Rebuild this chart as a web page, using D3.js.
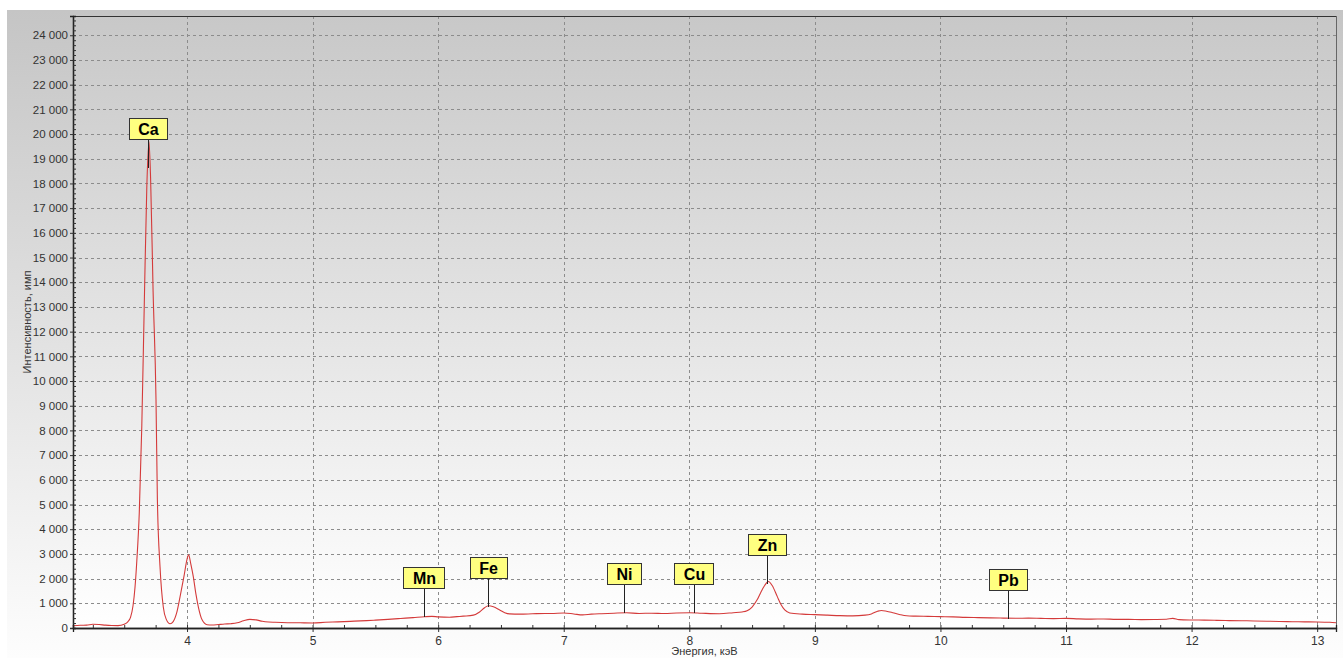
<!DOCTYPE html>
<html>
<head>
<meta charset="utf-8">
<script src="https://cdn.jsdelivr.net/npm/d3@7"></script>
<style>
  body { margin: 0; background: #fff; }
  text { font-family: Arial, "Liberation Sans", sans-serif; }
</style>
</head>
<body>
<svg width="1343" height="658"></svg>
<script>
// spectrum: energy (keV) and counts
var energy = [3.09,3.15,3.2,3.25,3.3,3.35,3.4,3.45,3.5,3.53,3.55,3.57,3.586,3.6,3.62,3.64,3.66,3.68,3.697,3.71,3.73,3.753,3.764,3.785,3.811,3.835,3.865,3.89,3.918,3.944,3.976,4.0,4.013,4.03,4.05,4.07,4.09,4.12,4.16,4.2,4.25,4.3,4.35,4.4,4.45,4.5,4.55,4.6,4.65,4.7,4.8,4.9,5.0,5.1,5.2,5.3,5.43,5.5,5.6,5.7,5.8,5.89,5.95,6.0,6.09,6.15,6.2,6.28,6.33,6.37,6.4,6.44,6.49,6.53,6.57,6.65,6.75,6.85,6.9,7.0,7.08,7.15,7.22,7.3,7.4,7.5,7.6,7.7,7.8,7.9,8.0,8.1,8.24,8.35,8.42,8.46,8.5,8.54,8.57,8.6,8.63,8.66,8.7,8.73,8.76,8.8,8.9,9.0,9.1,9.2,9.3,9.4,9.45,9.5,9.53,9.57,9.62,9.68,9.73,9.8,9.9,10.0,10.1,10.2,10.3,10.4,10.5,10.6,10.7,10.8,10.9,11.0,11.1,11.2,11.3,11.4,11.5,11.6,11.7,11.8,11.85,11.9,12.0,12.1,12.2,12.3,12.4,12.5,12.6,12.7,12.8,12.9,13.0,13.1,13.15];
var counts = [90,110,115,150,140,115,100,95,150,260,430,900,1660,2700,4700,8200,13200,17900,19700,18200,13600,9250,5200,2480,850,350,170,260,620,1250,2100,2780,2960,2600,2080,1400,860,330,130,120,140,160,175,210,290,350,330,270,240,230,215,210,205,230,250,270,300,320,350,385,420,455,470,450,435,460,480,520,650,820,900,860,730,620,570,560,575,590,585,610,570,530,560,580,600,615,590,600,585,610,620,600,580,620,650,700,850,1140,1450,1720,1880,1720,1280,950,730,610,560,540,520,500,490,520,570,680,710,680,620,540,495,480,470,460,450,430,420,410,400,395,400,390,380,390,370,360,365,350,350,340,345,355,390,340,325,320,310,300,295,285,275,265,255,250,245,230,215];

// element markers
var elements = ["Ca","Mn","Fe","Ni","Cu","Zn","Pb"];
var elementEnergy = [3.69,5.89,6.40,7.48,8.04,8.62,10.54];
var elementLevel = [18620,445,850,607,607,1780,376];

var xTicks = [4,5,6,7,8,9,10,11,12,13];
var yTicks = d3.range(0, 24001, 1000);

var svg = d3.select("svg");
var pLeft = 73, pRight = 1336, pTop = 16, pBottom = 628;

var x = d3.scaleLinear().domain([3.092, 13.15]).range([pLeft, pRight]);
var y = d3.scaleLinear().domain([0, 24780]).range([pBottom, pTop]);

var fmt = d3.formatLocale({decimal: ",", thousands: " ", grouping: [3], currency: ["", ""]}).format(",d");

var defs = svg.append("defs");
var g1 = defs.append("linearGradient").attr("id", "outerBg").attr("x1", 0).attr("y1", 0).attr("x2", 0).attr("y2", 1);
g1.append("stop").attr("offset", "0%").attr("stop-color", "#c5c5c5");
g1.append("stop").attr("offset", "100%").attr("stop-color", "#fdfdfd");
var g2 = defs.append("linearGradient").attr("id", "plotBg").attr("x1", 0).attr("y1", 0).attr("x2", 0).attr("y2", 1);
g2.append("stop").attr("offset", "0%").attr("stop-color", "#c8c8c8");
g2.append("stop").attr("offset", "100%").attr("stop-color", "#ffffff");

svg.append("rect").attr("x", 7).attr("y", 10).attr("width", 1336).attr("height", 648).attr("fill", "url(#outerBg)");
svg.append("rect").attr("x", pLeft).attr("y", pTop).attr("width", pRight - pLeft).attr("height", pBottom - pTop)
  .attr("fill", "url(#plotBg)");

// grid
var grid = svg.append("g").attr("stroke", "#8c8c8c").attr("stroke-dasharray", "3,3").attr("stroke-width", 1);
grid.selectAll(".gy").data(yTicks.filter(function(d) { return d > 0; })).enter().append("line")
  .attr("x1", pLeft).attr("x2", pRight)
  .attr("y1", function(d) { return Math.round(y(d)) + 0.5; })
  .attr("y2", function(d) { return Math.round(y(d)) + 0.5; });
grid.selectAll(".gx").data(xTicks).enter().append("line")
  .attr("y1", pTop).attr("y2", pBottom)
  .attr("x1", function(d) { return Math.round(x(d)) + 0.5; })
  .attr("x2", function(d) { return Math.round(x(d)) + 0.5; });

// spectrum
var line = d3.line()
  .x(function(d, i) { return x(energy[i]); })
  .y(function(d) { return y(d); })
  .curve(d3.curveMonotoneX);
svg.append("path").datum(counts).attr("d", line)
  .attr("fill", "none").attr("stroke", "#d43a3a").attr("stroke-width", 1.1);

// frame
svg.append("rect").attr("x", pLeft + 0.5).attr("y", pTop + 0.5).attr("width", pRight - pLeft).attr("height", pBottom - pTop)
  .attr("fill", "none").attr("stroke", "#666");
svg.append("line").attr("x1", pLeft).attr("x2", pRight).attr("y1", pTop + 0.5).attr("y2", pTop + 0.5)
  .attr("stroke", "#333");

// axes
var yAxis = svg.append("g").attr("transform", "translate(" + pLeft + ",0)")
  .call(d3.axisLeft(y).tickValues(yTicks).tickFormat(fmt).tickSize(3).tickPadding(2));
var yMinor = svg.append("g").attr("transform", "translate(" + pLeft + ",0)")
  .call(d3.axisRight(y).tickValues(d3.range(0, 24780, 200)).tickFormat("").tickSize(3));
var xAxis = svg.append("g").attr("transform", "translate(0," + pBottom + ")")
  .call(d3.axisBottom(x).tickValues(xTicks).tickFormat(d3.format("d")).tickSize(4).tickPadding(4));
var xMinor = svg.append("g").attr("transform", "translate(0," + pBottom + ")")
  .call(d3.axisTop(x).tickValues(d3.range(3.25, 13.15, 0.25)).tickFormat("").tickSize(3));

[yAxis, yMinor, xAxis, xMinor].forEach(function(a) {
  a.select(".domain").attr("stroke", "#222").attr("stroke-width", 1.3);
  a.selectAll(".tick line").attr("stroke", "#333");
  a.selectAll("text").attr("font-size", 11.5).attr("fill", "#333")
    .attr("font-family", "Arial, 'Liberation Sans', sans-serif");
});
xAxis.selectAll("text").attr("font-size", 12);

svg.append("text").attr("x", (pLeft + pRight) / 2).attr("y", 655).attr("text-anchor", "middle")
  .attr("font-size", 11).attr("fill", "#333").text("Энергия, кэВ");
svg.append("text").attr("transform", "translate(31," + (pTop + pBottom) / 2 + ") rotate(-90)")
  .attr("text-anchor", "middle").attr("font-size", 11).attr("fill", "#333").text("Интенсивность, имп");

// element labels
var lab = svg.selectAll(".lab").data(elements).enter().append("g").attr("class", "lab")
  .attr("transform", function(d, i) {
    return "translate(" + Math.round(x(elementEnergy[i])) + "," + Math.round(y(elementLevel[i])) + ")";
  });
lab.append("line").attr("x1", 0.5).attr("x2", 0.5).attr("y1", 0).attr("y2", -28)
  .attr("stroke", "#222").attr("stroke-width", 1);
lab.append("text").attr("x", 0.5).attr("y", -33).attr("text-anchor", "middle")
  .attr("font-size", 16).attr("font-weight", "bold").attr("fill", "#000")
  .text(function(d) { return d; })
  .each(function() {
    var w = this.getComputedTextLength();
    d3.select(this.parentNode).insert("rect", "text")
      .attr("x", 0.5 - Math.round(w / 2 + 9)).attr("y", -49.5)
      .attr("width", Math.round(w + 18)).attr("height", 21)
      .attr("fill", "#ffff80").attr("stroke", "#333");
  });
</script>
</body>
</html>
